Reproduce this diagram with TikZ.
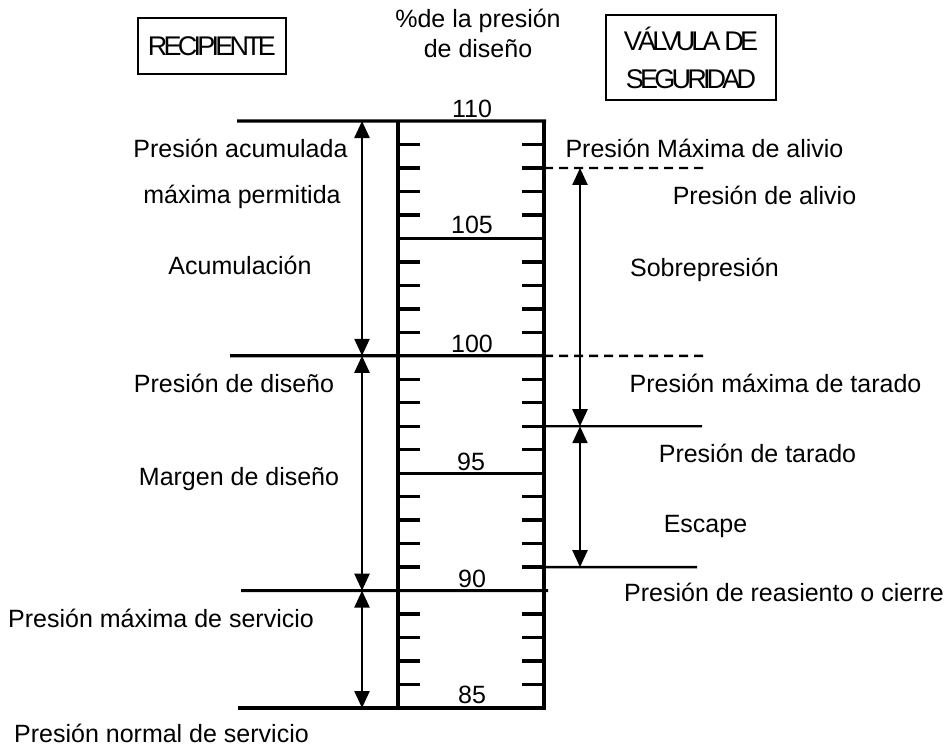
\documentclass[tikz,border=0pt]{standalone}
\usepackage{fontspec}
\setmainfont{Liberation Sans}
\usetikzlibrary{arrows.meta}
\begin{document}
\begin{tikzpicture}[x=1pt,y=-1pt,
  lbl/.style={font=\fontsize{25}{30}\selectfont, anchor=base, inner sep=0pt},
  boxlbl/.style={font=\fontsize{27}{38}\selectfont\addfontfeature{LetterSpace=-14}, inner sep=0pt, align=center},
  frameline/.style={line width=3.8pt},
  majorline/.style={line width=3.2pt},
  thinline/.style={line width=2.4pt},
  dashline/.style={line width=2.4pt, dash pattern=on 9pt off 6pt},
  tickline/.style={line width=3.4pt},
  dimarrow/.style={line width=2.4pt, {Triangle[length=17pt,width=15pt]}-{Triangle[length=17pt,width=15pt]}},
  boxline/.style={line width=1.8pt}]
\useasboundingbox (0,0) rectangle (947,747);
\pgfmathsetmacro{\unit}{23.48}
% level coordinates
\foreach \p in {85,...,110}{
  \pgfmathsetmacro{\yy}{708-(\p-85)*\unit}
  \coordinate (SL\p) at (398,\yy);
  \coordinate (SR\p) at (544,\yy);
  \coordinate (AL\p) at (362,\yy);
  \coordinate (AR\p) at (580,\yy);
}
% ticks
\foreach \p in {86,87,88,89,91,92,93,94,96,97,98,99,101,102,103,104,106,107,108,109}{
  \draw[tickline] (SL\p) -- ++(22,0);
  \draw[tickline] (SR\p) -- ++(-22,0);
}
% frame
\draw[frameline] (SL110) -- (SL85);
\draw[frameline] (SR110) -- (SR85);
% major lines
\coordinate (E110) at (237,121);
\coordinate (E100) at (230,355.8);
\coordinate (E90) at (241,590.6);
\coordinate (E85) at (238,708);
\draw[majorline] (E110) -- ([xshift=2pt]SR110);
\draw[majorline] (E100) -- ([xshift=2pt]SR100);
\draw[majorline] (E90) -- ([xshift=4pt]SR90);
\draw[majorline] (E85) -- ([xshift=2pt]SR85);
\draw[majorline] (SL105) -- (SR105);
\draw[majorline] (SL95) -- (SR95);
% right side lines
\coordinate (D108) at (705,168);
\coordinate (D100) at (705,355.8);
\coordinate (T97) at (702,426.2);
\coordinate (T91) at (697,567.1);
\draw[dashline] (SR108) -- (D108);
\draw[dashline] (SR100) -- (D100);
\draw[thinline] (SR97) -- (T97);
\draw[thinline] (SR91) -- (T91);
% dimension arrows
\draw[dimarrow] (AL110) -- (AL100);
\draw[dimarrow] (AL100) -- (AL90);
\draw[dimarrow] (AL90) -- (AL85);
\draw[dimarrow] (AR108) -- (AR97);
\draw[dimarrow] (AR97) -- (AR91);
% numbers
\node[lbl] (n110) at (472,117) {110};
\node[lbl] (n105) at (472,233) {105};
\node[lbl] (n100) at (472,352) {100};
\node[lbl] (n95) at (471,470) {95};
\node[lbl] (n90) at (472,587) {90};
\node[lbl] (n85) at (472,703) {85};
% header
\node[boxlbl, draw, boxline, minimum width=148pt, minimum height=56pt] (rec) at (212,46) {RECIPIENTE};
\node[lbl, align=center, anchor=north] (pct) at (478,9) {\%de la presión\\de diseño};
\node[boxlbl, draw, boxline, minimum width=170pt, minimum height=85pt] (val) at (691,57.5) {VÁLVULA DE\\SEGURIDAD};
% left labels
\node[lbl] (l1) at (240.5,157) {Presión acumulada};
\node[lbl] (l2) at (242,203) {máxima permitida};
\node[lbl] (l3) at (240,274) {Acumulación};
\node[lbl] (l4) at (234,392) {Presión de diseño};
\node[lbl] (l5) at (239,485) {Margen de diseño};
\node[lbl] (l6) at (161,627) {Presión máxima de servicio};
\node[lbl] (l7) at (161.5,742) {Presión normal de servicio};
% right labels
\node[lbl] (r1) at (704.5,157) {Presión Máxima de alivio};
\node[lbl] (r2) at (764.5,204) {Presión de alivio};
\node[lbl] (r3) at (704.5,276) {Sobrepresión};
\node[lbl] (r4) at (775.5,392) {Presión máxima de tarado};
\node[lbl] (r5) at (757.5,462) {Presión de tarado};
\node[lbl] (r6) at (705.5,532) {Escape};
\node[lbl] (r7) at (784,601) {Presión de reasiento o cierre};
\end{tikzpicture}
\end{document}
